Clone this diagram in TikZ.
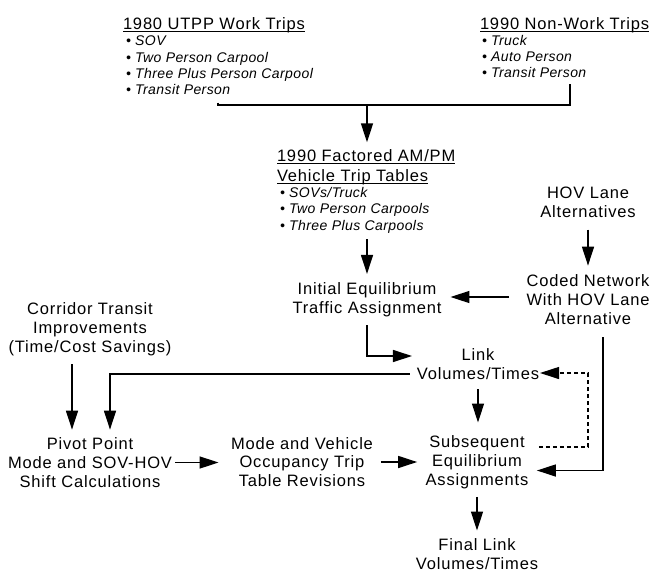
\documentclass[tikz,border=0pt]{standalone}
\usepackage{fontspec}
\setmainfont{Liberation Sans}[LetterSpace=5]
\newfontfamily\itemf{Liberation Sans}[LetterSpace=3]
\usetikzlibrary{arrows.meta}
\newcommand\myul[1]{\setbox0\hbox{#1}\rlap{\rule[-2.8pt]{\wd0}{0.9pt}}\box0}
\tikzset{
  txt/.style={font=\fontsize{16.5}{18.8}\selectfont, align=center, inner sep=0pt, outer sep=0pt},
  ttl/.style={font=\fontsize{16.5}{20}\selectfont, align=left, inner sep=0pt, outer sep=0pt, anchor=west},
  itm/.style={font=\itemf\itshape\fontsize{14}{16.4}\selectfont, align=left, inner sep=0pt, outer sep=0pt, anchor=west},
  ln/.style={line width=1.4pt},
  arr/.style={line width=1.4pt, -{Triangle[length=19pt,width=12pt]}},
  dsh/.style={line width=1.2pt, dash pattern=on 4.5pt off 2.5pt, -{Triangle[length=19pt,width=12pt]}}
}
\begin{document}
\begin{tikzpicture}[x=1pt,y=-1pt]
\useasboundingbox (0,0) rectangle (655,573);
% nodes
\node[ttl] (wt) at (123,25) {\myul{1980 UTPP Work Trips}};
\node[itm] (wl) at (126,65.5) {\textbullet\ SOV\\ \textbullet\ Two Person Carpool\\ \textbullet\ Three Plus Person Carpool\\ \textbullet\ Transit Person};
\node[ttl] (nt) at (480,25) {\myul{1990 Non-Work Trips}};
\node[itm] (nl) at (482,56.5) {\textbullet\ Truck\\ \textbullet\ Auto Person\\ \textbullet\ Transit Person};
\node[ttl] (ft) at (277,167) {\myul{1990 Factored AM/PM}\\ \myul{Vehicle Trip Tables}};
\node[itm] (fl) at (280,210) {\textbullet\ SOVs/Truck\\ \textbullet\ Two Person Carpools\\ \textbullet\ Three Plus Carpools};
\node[txt] (ini) at (367,299.5) {Initial Equilibrium\\ Traffic Assignment};
\node[txt] (hov) at (588,202.5) {HOV Lane\\ Alternatives};
\node[txt] (cod) at (588,299.5) {Coded Network\\ With HOV Lane\\ Alternative};
\node[txt] (cor) at (90,329.5) {Corridor Transit\\ Improvements\\ (Time/Cost Savings)};
\node[txt] (lnk) at (478,364) {Link\\ Volumes/Times};
\node[txt] (piv) at (90,462.5) {Pivot Point\\ Mode and SOV-HOV\\ Shift Calculations};
\node[txt] (mod) at (302,462) {Mode and Vehicle\\ Occupancy Trip\\ Table Revisions};
\node[txt] (sub) at (477,462) {Subsequent\\ Equilibrium\\ Assignments};
\node[txt] (fin) at (477,554) {Final Link\\ Volumes/Times};
% junction
\coordinate (ja) at (218,105);
\coordinate (jb) at (570,105);
\coordinate (jm) at (367,105);
\draw[ln, shorten <=7.5pt, shorten >=5.5pt] (wl.south -| ja) -- (ja) -- (jb) -- (nl.south -| jb);
\draw[arr, shorten >=7pt] (jm) -- (jm |- ft.north);
% connectors
\draw[arr, shorten <=6.5pt, shorten >=8.5pt] (ini.north |- fl.south) -- (ini.north);
\draw[arr, shorten <=12pt, shorten >=9pt] (hov.south) -- (cod.north);
\draw[arr, shorten <=17.5pt, shorten >=9pt] ([yshift=2.5pt]cod.west) -- ([yshift=2.5pt]cod.west -| ini.east);
\draw[arr, shorten <=8.5pt, shorten >=5pt] (ini.south) |- ([yshift=8pt]lnk.west);
\draw[arr, shorten <=7pt, shorten >=8pt] ([yshift=-10pt]lnk.west) -| ([xshift=20pt]piv.north);
\draw[arr, shorten <=8.5pt, shorten >=8pt] ([xshift=-18pt]cor.south) -- ([xshift=-18pt]piv.north);
\draw[arr, shorten <=10pt, shorten >=13pt] (lnk.south) -- (lnk.south |- sub.north);
\draw[arr, shorten <=3.5pt, shorten >=12.5pt] (piv.east) -- (piv.east -| mod.west);
\draw[arr, shorten <=8pt, shorten >=8.5pt] (mod.east) -- (mod.east -| sub.west);
\draw[arr, shorten <=8.5pt, shorten >=8pt] (sub.south) -- (fin.north);
\draw[arr, shorten <=13pt, shorten >=8.5pt] ([xshift=15pt]cod.south) |- ([yshift=-8.5pt]sub.east);
\draw[dsh, shorten <=10.5pt, shorten >=1pt] ([yshift=15pt]sub.east) -- ([yshift=15pt]sub.east -| cod.south) -- ([yshift=-9pt]lnk.east -| cod.south) -- ([yshift=-9pt]lnk.east);
\end{tikzpicture}
\end{document}
